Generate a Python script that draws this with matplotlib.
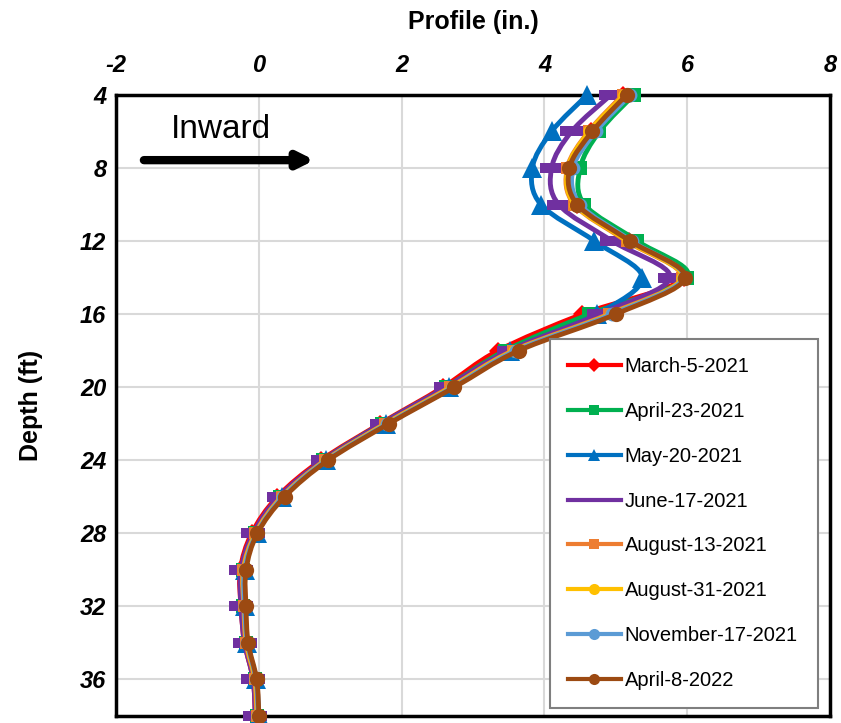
import numpy as np
import matplotlib
matplotlib.use('Agg')
import matplotlib.pyplot as plt
from matplotlib.path import Path
from matplotlib.patches import PathPatch
from matplotlib.lines import Line2D

plt.rcParams['font.family'] = ['Liberation Sans', 'DejaVu Sans']
plt.rcParams['axes.unicode_minus'] = False

# depth of each reading (ft)
depth = [4, 6, 8, 10, 12, 14, 16, 18, 20, 22, 24, 26, 28, 30, 32, 34, 36, 38]

dates = ['March-5-2021', 'April-23-2021', 'May-20-2021', 'June-17-2021',
         'August-13-2021', 'August-31-2021', 'November-17-2021', 'April-8-2022']

# profile readings (in.)
mar_5_2021 = [5.10, 4.65, 4.38, 4.45, 5.18, 5.95, 4.53, 3.35, 2.58, 1.70, 0.87, 0.26, -0.10, -0.26, -0.25, -0.20, -0.08, -0.05]
apr_23_2021 = [5.25, 4.77, 4.50, 4.56, 5.30, 6.00, 4.63, 3.45, 2.62, 1.72, 0.90, 0.30, -0.05, -0.22, -0.22, -0.18, -0.06, -0.03]
may_20_2021 = [4.60, 4.10, 3.83, 3.95, 4.70, 5.37, 4.73, 3.52, 2.66, 1.78, 0.94, 0.33, -0.03, -0.20, -0.20, -0.16, -0.04, 0.00]
jun_17_2021 = [4.93, 4.38, 4.10, 4.20, 4.95, 5.76, 4.77, 3.50, 2.62, 1.72, 0.90, 0.28, -0.08, -0.25, -0.25, -0.20, -0.08, -0.05]
aug_13_2021 = [5.10, 4.62, 4.32, 4.42, 5.15, 5.92, 4.90, 3.56, 2.68, 1.77, 0.93, 0.32, -0.05, -0.22, -0.21, -0.18, -0.06, -0.03]
aug_31_2021 = [5.12, 4.63, 4.33, 4.43, 5.17, 5.93, 4.93, 3.58, 2.70, 1.78, 0.94, 0.33, -0.04, -0.21, -0.20, -0.17, -0.05, -0.02]
nov_17_2021 = [5.20, 4.72, 4.40, 4.50, 5.22, 5.95, 4.95, 3.60, 2.72, 1.80, 0.95, 0.34, -0.03, -0.20, -0.20, -0.16, -0.04, -0.01]
apr_8_2022 = [5.15, 4.67, 4.35, 4.46, 5.20, 5.97, 5.00, 3.64, 2.74, 1.82, 0.97, 0.36, -0.02, -0.18, -0.18, -0.15, -0.03, 0.00]

series = [mar_5_2021, apr_23_2021, may_20_2021, jun_17_2021,
          aug_13_2021, aug_31_2021, nov_17_2021, apr_8_2022]

colors = ['#FF0000', '#00B050', '#0070C0', '#7030A0',
          '#ED7D31', '#FFC000', '#5B9BD5', '#9C4A12']

bar = Path([(-1.2, -0.5), (1.2, -0.5), (1.2, 0.5), (-1.2, 0.5), (-1.2, -0.5)],
           [Path.MOVETO, Path.LINETO, Path.LINETO, Path.LINETO, Path.CLOSEPOLY])
markers = ['D', 's', '^', bar, 's', 'o', 'o', 'o']
msizes = [9, 10, 15, 17, 9, 9, 10, 11]
leg_sizes = [7, 7, 8, 0, 7, 8, 8, 8]


def smooth_path(x, y):
    # excel-like smoothed line through the points (bezier segments)
    pts = np.column_stack([x, y]).astype(float)
    n = len(pts)
    verts = [pts[0]]
    codes = [Path.MOVETO]
    for i in range(n - 1):
        p0 = pts[i - 1] if i > 0 else pts[i]
        p1 = pts[i]
        p2 = pts[i + 1]
        p3 = pts[i + 2] if i + 2 < n else pts[i + 1]
        verts += [p1 + (p2 - p0) / 6, p2 - (p3 - p1) / 6, p2]
        codes += [Path.CURVE4] * 3
    return Path(verts, codes)


fig = plt.figure(figsize=(8.41, 7.23), dpi=100)
ax = fig.add_axes([0.138, 0.0097, 0.849, 0.859])

handles = []
for i, vals in enumerate(series):
    patch = PathPatch(smooth_path(vals, depth), facecolor='none', edgecolor=colors[i],
                      lw=3.5, zorder=3 + i, clip_on=False)
    ax.add_patch(patch)
    ax.plot(vals, depth, linestyle='none', marker=markers[i], markersize=msizes[i],
            color=colors[i], markeredgewidth=0, zorder=3 + i, clip_on=False)
    handles.append(Line2D([], [], color=colors[i], lw=3, marker=markers[i],
                          markersize=leg_sizes[i], markeredgewidth=0))

ax.set_xlim(-2, 8)
ax.set_ylim(38, 4)
ax.set_xticks(range(-2, 9, 2))
ax.set_yticks(range(4, 37, 4))
ax.xaxis.tick_top()
ax.xaxis.set_label_position('top')
ax.tick_params(length=0, labelsize=17)
ax.tick_params(axis='x', pad=13)
ax.tick_params(axis='y', pad=7)
for lab in ax.get_xticklabels() + ax.get_yticklabels():
    lab.set_fontweight('bold')
    lab.set_fontstyle('italic')
ax.grid(True, color='#D9D9D9', lw=1.5)
ax.set_axisbelow(True)
for sp in ax.spines.values():
    sp.set_linewidth(2.5)
    sp.set_color('black')

ax.set_xlabel('Profile (in.)', fontsize=18, fontweight='bold', labelpad=18)
ax.set_ylabel('Depth (ft)', fontsize=18, fontweight='bold', labelpad=27)

ax.text(0.147, 0.944, 'Inward', transform=ax.transAxes, fontsize=24,
        ha='center', va='center')
ax.annotate('', xy=(0.278, 0.895), xytext=(0.039, 0.895), xycoords='axes fraction',
            arrowprops=dict(arrowstyle='-|>,head_length=0.9,head_width=0.45',
                            lw=6, color='black', shrinkA=0, shrinkB=0))

leg = ax.legend(handles, dates, loc='lower left', bbox_to_anchor=(0.608, 0.013, 0.375, 0.596),
                mode='expand', borderaxespad=0, fontsize=14.5, labelspacing=1.28,
                handlelength=2.6, handletextpad=0.2, borderpad=0.9,
                fancybox=False, framealpha=1)
leg.get_frame().set_edgecolor('#7F7F7F')
leg.get_frame().set_linewidth(1.5)
leg.set_zorder(20)

plt.savefig('out.png', dpi=100)
